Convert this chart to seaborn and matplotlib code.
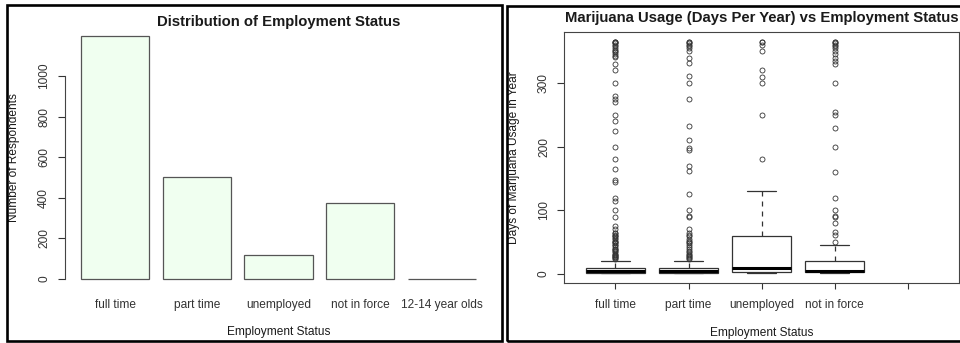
import matplotlib
matplotlib.use("Agg")
import matplotlib.pyplot as plt
from matplotlib.patches import Rectangle
import seaborn as sns
import pandas as pd
import numpy as np

# ---------------- data ----------------
categories = ["full time", "part time", "unemployed", "not in force", "12-14 year olds"]
respondents = [1200, 500, 115, 372, 0]
box_tick_labels = ["full time", "part time", "unemployed", "not in force", ""]
bar_yticks = [0, 200, 400, 600, 800, 1000]
box_yticks = [0, 100, 200, 300]

# days-per-year frequency tables (value, count) per employment status
full_time_values = [1, 2, 3, 4, 5, 6, 7, 8, 10, 12, 15, 20]
full_time_counts = [90, 90, 60, 90, 30, 10, 10, 10, 90, 20, 20, 20]
full_time_high = [24, 25, 26, 27, 28, 30, 30, 32, 35, 36, 38, 40, 40, 42, 45, 45,
                  48, 50, 50, 52, 55, 56, 60, 60, 62, 64, 65, 70, 75,
                  90, 100, 115, 120, 144, 148, 165, 180, 200, 224,
                  240, 250, 270, 275, 280, 300, 320, 330, 340, 343,
                  345, 348, 350, 352, 355, 358, 360, 362, 365, 365, 365]

part_time_values = [1, 2, 3, 4, 5, 6, 7, 8, 10, 12, 15, 20]
part_time_counts = [40, 40, 25, 50, 15, 5, 5, 5, 45, 10, 10, 10]
part_time_high = [24, 25, 27, 28, 30, 32, 35, 36, 40, 42, 45, 48, 50, 52, 55, 60, 62, 65, 70,
                  89, 91, 100, 125, 161, 170, 194, 198, 211, 233,
                  275, 300, 311, 331, 339, 350, 355, 358, 360, 362, 365, 365]

unemployed_values = [1, 2, 3, 5, 7, 8, 9, 10, 14, 20, 30, 45, 60, 90, 100, 130]
unemployed_counts = [6, 8, 8, 5, 5, 4, 6, 4, 3, 3, 3, 2, 5, 3, 3, 3]
unemployed_high = [180, 250, 300, 310, 320, 350, 360, 365, 365]

not_in_force_values = [1, 2, 3, 4, 5, 6, 7, 8, 10, 12, 15, 21, 25, 30, 40, 45]
not_in_force_counts = [25, 20, 20, 20, 25, 5, 5, 5, 10, 5, 5, 10, 6, 6, 5, 3]
not_in_force_high = [50, 61, 66, 80, 89, 91, 100, 120, 160, 200, 230, 250, 254,
                     300, 330, 335, 339, 345, 350, 355, 358, 360, 362, 365, 365]

groups = {
    "full time": (full_time_values, full_time_counts, full_time_high),
    "part time": (part_time_values, part_time_counts, part_time_high),
    "unemployed": (unemployed_values, unemployed_counts, unemployed_high),
    "not in force": (not_in_force_values, not_in_force_counts, not_in_force_high),
}
rows = []
for name, (vals, cnts, high) in groups.items():
    days = list(np.repeat(vals, cnts)) + list(high)
    rows.append(pd.DataFrame({"status": name, "days": days}))
usage = pd.concat(rows, ignore_index=True)
usage["status"] = pd.Categorical(usage["status"], categories=categories)

# ---------------- style ----------------
sns.set_style("white")
plt.rcParams["font.family"] = ["Liberation Sans", "DejaVu Sans"]
plt.rcParams["text.color"] = "#1a1a1a"
plt.rcParams["axes.labelcolor"] = "#1a1a1a"
plt.rcParams["xtick.color"] = "#333333"
plt.rcParams["ytick.color"] = "#333333"

fs = 8.6
fig = plt.figure(figsize=(9.6, 3.43), dpi=100)

# panel frames
fig.add_artist(Rectangle((7 / 960, 1 - 341 / 343), 495 / 960, 336 / 343,
                         transform=fig.transFigure, fill=False, edgecolor="black",
                         linewidth=1.9, clip_on=False))
fig.add_artist(Rectangle((507 / 960, 1 - 341 / 343), 460 / 960, 335 / 343,
                         transform=fig.transFigure, fill=False, edgecolor="black",
                         linewidth=1.9, clip_on=False))

# ---------------- left: bar chart ----------------
ax1 = fig.add_axes([0.0680, 0.1592, 0.4443, 0.7650])
sns.barplot(x=categories, y=respondents, order=categories, ax=ax1, width=0.836,
            color="#F0FFF0", saturation=1, edgecolor="#555555", linewidth=0.9,
            errorbar=None)
ax1.set_xlim(-0.611, 4.61)
ax1.set_ylim(-48, 1247)
for s in ["top", "right", "bottom"]:
    ax1.spines[s].set_visible(False)
ax1.spines["left"].set_bounds(0, 1000)
ax1.spines["left"].set_color("#444444")
ax1.spines["left"].set_linewidth(0.8)
ax1.set_yticks(bar_yticks)
ax1.set_yticklabels([str(v) for v in bar_yticks], rotation=90, va="center", fontsize=fs)
ax1.tick_params(axis="y", length=5.4, width=0.8, pad=5.5, left=True)
ax1.tick_params(axis="x", length=0, pad=7.3, labelsize=fs)
ax1.set_xlabel("Employment Status", fontsize=fs)
ax1.xaxis.set_label_coords(0.5, -0.165)
ax1.xaxis.label.set_va("center")
ax1.set_ylabel("Number of Respondents", fontsize=fs, va="center")
ax1.yaxis.set_label_coords(-0.1203, 0.5)
ax1.set_title("Distribution of Employment Status", fontsize=10.7, fontweight="bold",
              y=1.016, pad=0, va="center")

# ---------------- right: box plot ----------------
ax2 = fig.add_axes([0.5878, 0.1741, 0.4111, 0.7318])
sns.boxplot(data=usage, x="status", y="days", order=categories, ax=ax2, width=0.8,
            color="white", saturation=1, linecolor="#333333", linewidth=0.9,
            fliersize=3.6,
            flierprops=dict(marker="o", markerfacecolor="none",
                            markeredgecolor="#333333", markeredgewidth=0.6),
            medianprops=dict(color="black", linewidth=2.2),
            whiskerprops=dict(linestyle=(0, (4, 4))))
ax2.set_xticks(range(len(categories)))
ax2.set_xticklabels(box_tick_labels, fontsize=fs)
ax2.set_xlim(-0.7, 4.7)
ax2.set_ylim(-14.6, 379.6)
ax2.set_yticks(box_yticks)
ax2.set_yticklabels([str(v) for v in box_yticks], rotation=90, va="center", fontsize=fs)
for s in ax2.spines.values():
    s.set_visible(True)
    s.set_color("#444444")
    s.set_linewidth(0.8)
ax2.tick_params(axis="y", length=4.8, width=0.8, pad=5.5, left=True)
ax2.tick_params(axis="x", length=4.3, width=0.8, pad=7.3, bottom=True)
ax2.set_xlabel("Employment Status", fontsize=fs)
ax2.xaxis.set_label_coords(0.5, -0.198)
ax2.xaxis.label.set_va("center")
ax2.set_ylabel("Days of Marijuana Usage in Year", fontsize=fs, va="center")
ax2.yaxis.set_label_coords(-0.1274, 0.5)
ax2.set_title("Marijuana Usage (Days Per Year) vs Employment Status", fontsize=10.7,
              fontweight="bold", y=1.0558, pad=0, va="center")

fig.savefig("out.png", dpi=100)
